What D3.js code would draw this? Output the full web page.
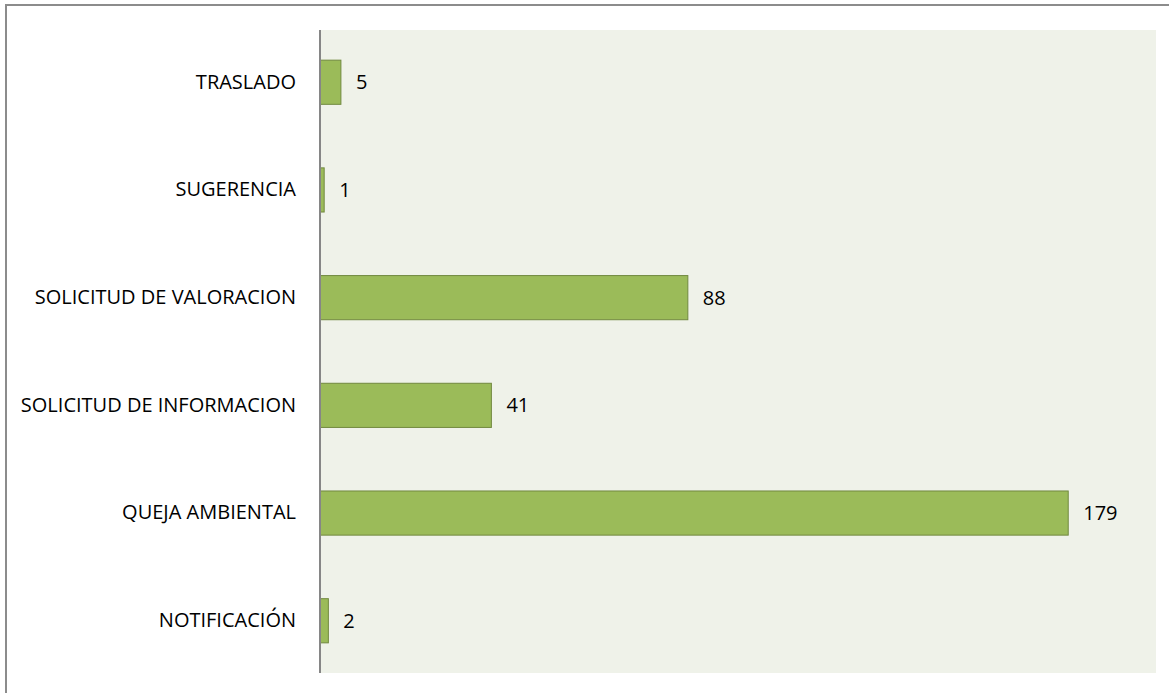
<!DOCTYPE html>
<html>
<head>
<meta charset="utf-8">
<script src="https://cdn.jsdelivr.net/npm/d3@7"></script>
<style>
  body { margin: 0; background: #fff; }
  svg text { font-family: "Open Sans", "Noto Sans", sans-serif; fill: #000; }
</style>
</head>
<body>
<svg id="chart"></svg>
<script>
// categories top to bottom
const categories = [
  'TRASLADO',
  'SUGERENCIA',
  'SOLICITUD DE VALORACION',
  'SOLICITUD DE INFORMACION',
  'QUEJA AMBIENTAL',
  'NOTIFICACIÓN'
];
const values = [5, 1, 88, 41, 179, 2];
const xDomain = [0, 200];

const width = 1169;
const height = 693;
const margin = { top: 30, right: 13, bottom: 20, left: 320 };
const fontSize = 20;

const svg = d3.select('#chart')
  .attr('width', width)
  .attr('height', height);

// outer frame (only top and left edges visible in the crop)
svg.append('path')
  .attr('d', `M6,${height} V5 H${width}`)
  .attr('fill', 'none')
  .attr('stroke', '#8c8c8c')
  .attr('stroke-width', 2);

const x = d3.scaleLinear()
  .domain(xDomain)
  .range([margin.left, width - margin.right]);

const y = d3.scaleBand()
  .domain(categories)
  .range([margin.top, height - margin.bottom])
  .paddingInner(0.59)
  .paddingOuter(0.28);

// plot area
svg.append('rect')
  .attr('x', margin.left)
  .attr('y', margin.top)
  .attr('width', width - margin.right - margin.left)
  .attr('height', height - margin.bottom - margin.top)
  .attr('fill', '#eff2e9');

const data = categories.map((c, i) => ({ c, v: values[i] }));

// bars
svg.append('g')
  .selectAll('rect')
  .data(data)
  .join('rect')
  .attr('x', x(0))
  .attr('y', d => y(d.c))
  .attr('width', d => x(d.v) - x(0))
  .attr('height', y.bandwidth())
  .attr('fill', '#9bbb59')
  .attr('stroke', '#71893f')
  .attr('stroke-width', 1);

// value labels
svg.append('g')
  .selectAll('text')
  .data(data)
  .join('text')
  .attr('x', d => x(d.v) + 15)
  .attr('y', d => y(d.c) + y.bandwidth() / 2)
  .attr('dy', '0.35em')
  .attr('font-size', fontSize)
  .text(d => d.v);

// category axis
const yAxis = d3.axisLeft(y).tickSize(0).tickPadding(24);
const gy = svg.append('g')
  .attr('transform', `translate(${margin.left},0)`)
  .call(yAxis)
  .attr('font-size', fontSize)
  .attr('font-family', '"Open Sans", "Noto Sans", sans-serif');
gy.select('.domain')
  .attr('stroke', '#868686')
  .attr('stroke-width', 2)
  .attr('d', `M0,${margin.top}V${height - margin.bottom}`);
gy.selectAll('text')
  .attr('font-size', fontSize)
  .attr('fill', '#000');
</script>
</body>
</html>
